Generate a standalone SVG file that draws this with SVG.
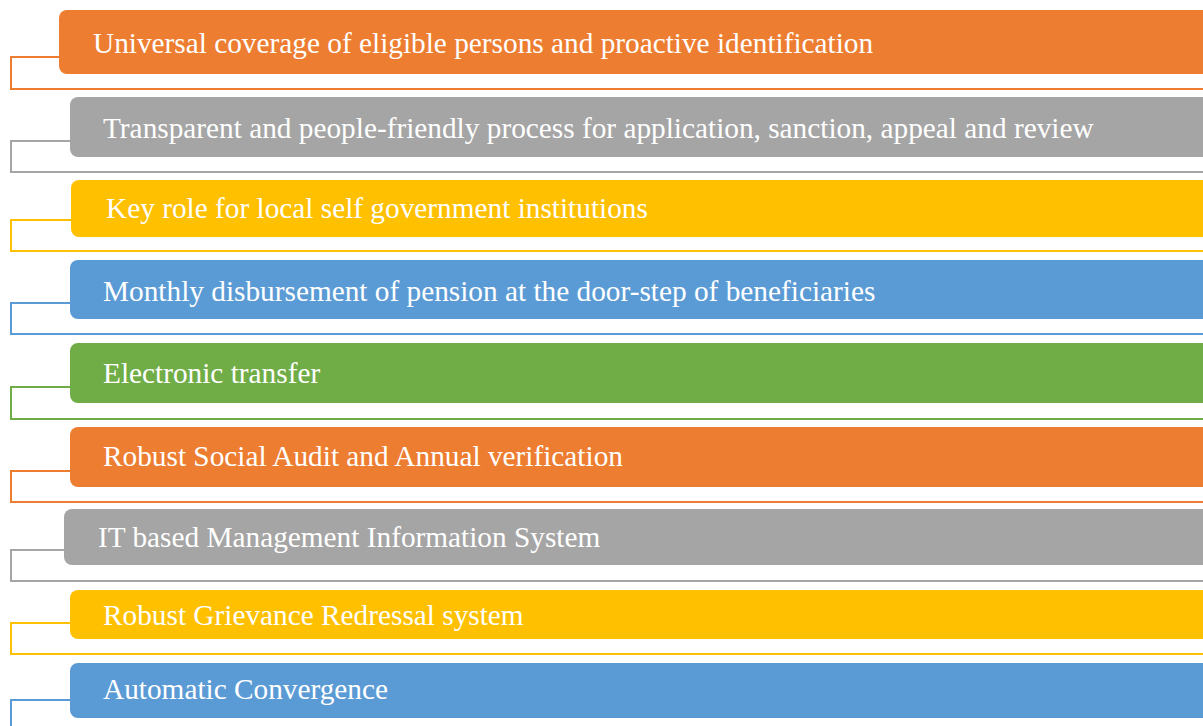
<svg xmlns="http://www.w3.org/2000/svg" width="1203" height="726" viewBox="0 0 1203 726">
<style>
.t{font-family:"Liberation Serif","Times New Roman",serif;font-size:29.3px;fill:#fff}
.c{fill:none;stroke-width:2}
.or{fill:#ED7D31}.gr{fill:#A5A5A5}.ye{fill:#FFC000}.bl{fill:#5B9BD5}.gn{fill:#70AD47}
.sor{stroke:#ED7D31}.sgr{stroke:#A5A5A5}.sye{stroke:#FFC000}.sbl{stroke:#5B9BD5}.sgn{stroke:#70AD47}
</style>
<rect width="1203" height="726" fill="#fff"/>
<g id="connectors">
<path class="c sor" d="M59,57 H11 V89 H1203"/>
<path class="c sgr" d="M70,141 H11 V172 H1203"/>
<path class="c sye" d="M71,220 H11 V251 H1203"/>
<path class="c sbl" d="M70,303 H11 V334 H1203"/>
<path class="c sgn" d="M70,387 H11 V419 H1203"/>
<path class="c sor" d="M70,471 H11 V502 H1203"/>
<path class="c sgr" d="M64,550 H11 V581 H1203"/>
<path class="c sye" d="M70,623 H11 V654 H1203"/>
<path class="c sbl" d="M70,700 H11 V726"/>
</g>
<g id="n1"><rect class="or" x="59" y="10" width="1160" height="64" rx="8"/><text class="t" x="93" y="53">Universal coverage of eligible persons and proactive identification</text></g>
<g id="n2"><rect class="gr" x="70" y="97" width="1150" height="60" rx="8"/><text class="t" x="103" y="138">Transparent and people-friendly process for application, sanction, appeal and review</text></g>
<g id="n3"><rect class="ye" x="71" y="180" width="1150" height="57" rx="8"/><text class="t" x="106" y="218">Key role for local self government institutions</text></g>
<g id="n4"><rect class="bl" x="70" y="260" width="1150" height="59" rx="8"/><text class="t" x="103" y="301">Monthly disbursement of pension at the door-step of beneficiaries</text></g>
<g id="n5"><rect class="gn" x="70" y="343" width="1150" height="60" rx="8"/><text class="t" x="103" y="383">Electronic transfer</text></g>
<g id="n6"><rect class="or" x="70" y="427" width="1150" height="60" rx="8"/><text class="t" x="103" y="466">Robust Social Audit and Annual verification</text></g>
<g id="n7"><rect class="gr" x="64" y="509" width="1150" height="56" rx="8"/><text class="t" x="98" y="547">IT based Management Information System</text></g>
<g id="n8"><rect class="ye" x="70" y="590" width="1150" height="49" rx="8"/><text class="t" x="103" y="625">Robust Grievance Redressal system</text></g>
<g id="n9"><rect class="bl" x="70" y="663" width="1150" height="55" rx="8"/><text class="t" x="103" y="699">Automatic Convergence</text></g>
</svg>
